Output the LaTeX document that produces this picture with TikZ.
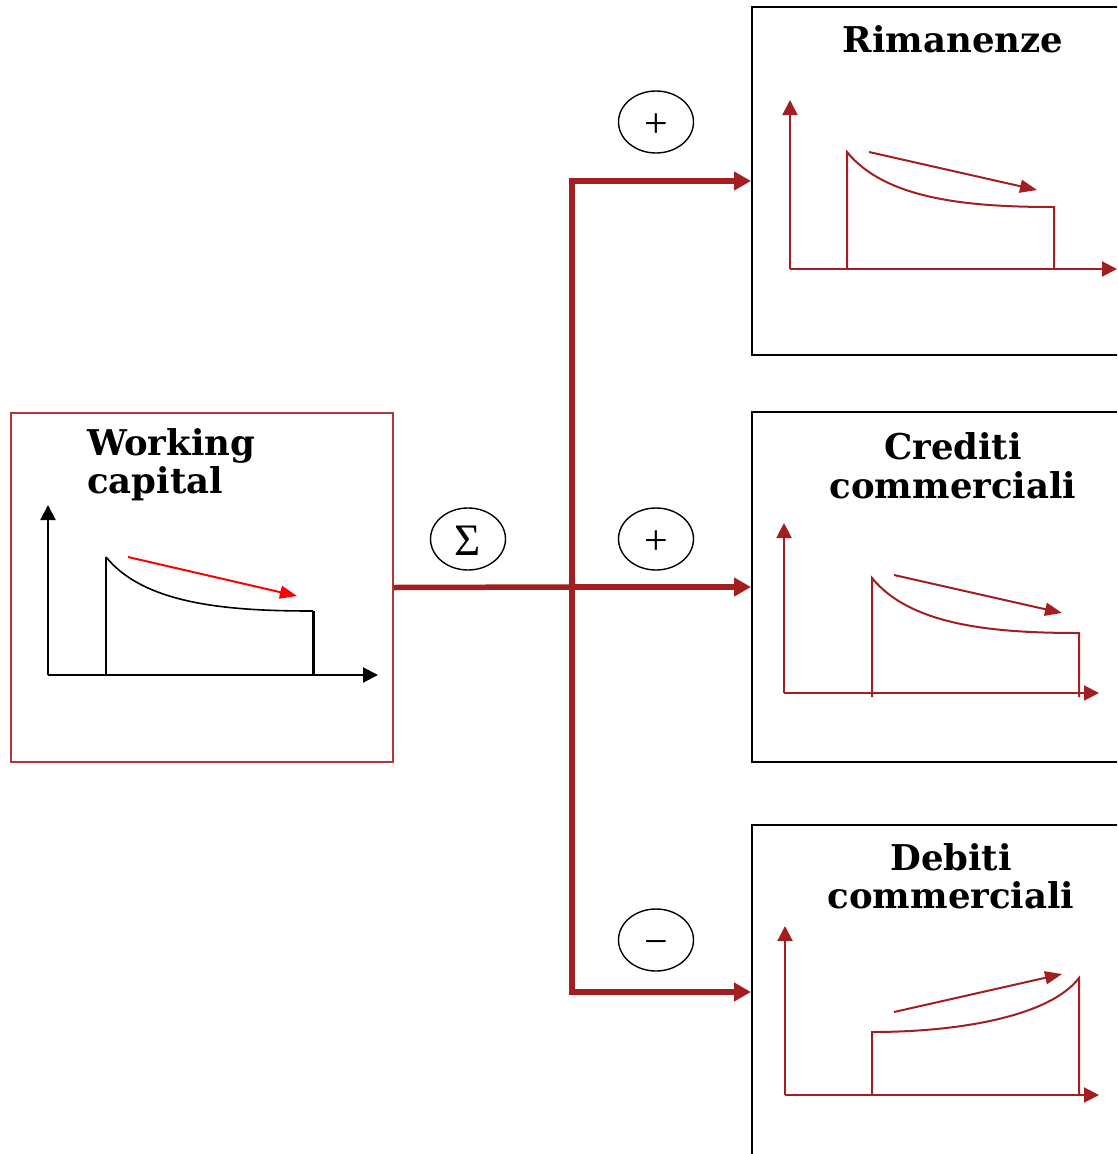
\documentclass[tikz,border=0pt]{standalone}
\usepackage{fontspec}
\setmainfont{DejaVu Serif}
\newfontfamily\symfont{Liberation Serif}
\usetikzlibrary{arrows.meta,shapes.geometric}
\definecolor{dred}{RGB}{163,30,32}
\definecolor{bred}{RGB}{180,55,55}
\begin{document}
\begin{tikzpicture}[x=1pt,y=-1pt,
  main/.style={line width=5.5pt, draw=dred},
  mainarrow/.style={main, -{Triangle[length=17pt,width=18pt]}},
  box/.style={draw=black, line width=2pt, minimum width=380pt, inner sep=0pt},
  title/.style={font=\fontsize{35.5}{40}\selectfont\bfseries, inner sep=0pt},
  sign/.style={draw=black, ellipse, line width=1.4pt, minimum width=75pt, minimum height=62pt, inner sep=0pt},
  ax/.style={line width=2pt, -{Triangle[length=15pt,width=15pt]}},
  crv/.style={line width=2pt},
  trend/.style={line width=2pt, -{Triangle[length=17pt,width=13pt]}}]
\useasboundingbox (0,0) rectangle (1117,1154);
\clip (0,0) rectangle (1117,1154);

% boxes
\node[draw=bred, line width=1.8pt, minimum width=382pt, minimum height=349pt, inner sep=0pt] (wc) at (202,587.5) {};
\node[box, minimum height=348pt] (rim) at (942,181) {};
\node[box, minimum height=350pt] (cre) at (942,587) {};
\node[box, minimum height=334pt] (deb) at (942,992) {};

% titles
\node[title, anchor=base west] (wct1) at (87,455) {Working};
\node[title, anchor=base west] (wct2) at (87,493) {capital};
\node[title, anchor=base] (rimt) at (953,52) {Rimanenze};
\node[title, anchor=base] (cret1) at (953,459) {Crediti};
\node[title, anchor=base] (cret2) at (953,498) {commerciali};
\node[title, anchor=base] (debt1) at (951,870) {Debiti};
\node[title, anchor=base] (debt2) at (951,908) {commerciali};

% sign ellipses
\node[sign] (sig) at (468,539) {\symfont\fontsize{45}{45}\selectfont\smash{\raisebox{-16pt}{Σ}}};
\node[sign] (p1) at (656,122) {\symfont\fontsize{42}{42}\selectfont\smash{\raisebox{-15pt}{+}}};
\node[sign] (p2) at (656,539) {\symfont\fontsize{42}{42}\selectfont\smash{\raisebox{-15pt}{+}}};
\node[sign] (m1) at (656,940) {\symfont\fontsize{42}{42}\selectfont\smash{\raisebox{-15pt}{−}}};

% connectors
\coordinate (j) at (572,587);
\draw[main] (wc.east) -- (j);
\draw[mainarrow] (j) -- (cre.west);
\draw[mainarrow] (j) |- (rim.west);
\draw[mainarrow] (j) |- (deb.west);

% working capital chart (black)
\draw[ax, black] (48,675) -- (48,505);
\draw[ax, black] (48,675) -- (378,675);
\draw[crv, black] (106,675) -- (106,557);
\draw[line width=1.6pt, black] (106,557) .. controls (145,605) and (230,611) .. (313,611);
\draw[line width=3pt, black] (313,611) -- (313,675);
\draw[trend, red] (128,557) -- (297,596);

% rimanenze chart
\begin{scope}[dred]
\draw[ax] (790,269) -- (790,100);
\draw[ax] (790,269) -- (1117,269);
\draw[crv] (847,269) -- (847,152) .. controls (886,200) and (970,207) .. (1054,207) -- (1054,269);
\draw[trend] (869,152) -- (1037,190);
\end{scope}

% crediti chart
\begin{scope}[dred]
\draw[ax] (784,693) -- (784,523);
\draw[ax] (784,693) -- (1099,693);
\draw[crv] (872,697) -- (872,578) .. controls (911,626) and (995,633) .. (1079,633) -- (1079,697);
\draw[trend] (894,575) -- (1062,613);
\end{scope}

% debiti chart
\begin{scope}[dred]
\draw[ax] (785,1095) -- (785,926);
\draw[ax] (785,1095) -- (1099,1095);
\draw[crv] (872,1095) -- (872,1032) .. controls (960,1032) and (1050,1016) .. (1079,978) -- (1079,1095);
\draw[trend] (894,1012) -- (1062,974);
\end{scope}
\end{tikzpicture}
\end{document}
